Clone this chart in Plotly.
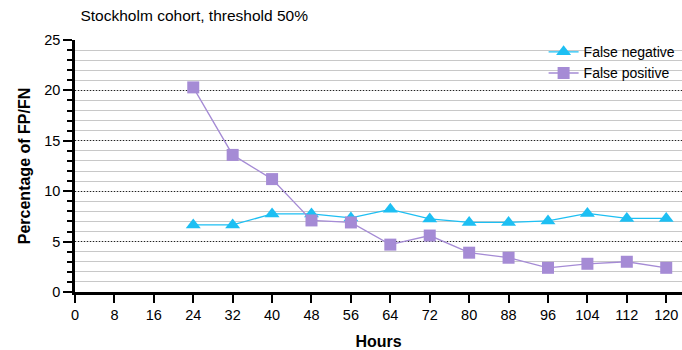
import plotly.graph_objects as go

hours = [24, 32, 40, 48, 56, 64, 72, 80, 88, 96, 104, 112, 120]
false_negative = [6.65, 6.65, 7.75, 7.75, 7.35, 8.2, 7.25, 6.9, 6.9, 7.05, 7.8, 7.3, 7.3]
false_positive = [20.3, 13.6, 11.2, 7.1, 6.9, 4.7, 5.6, 3.9, 3.4, 2.4, 2.8, 3.0, 2.4]
x_ticks = list(range(0, 121, 8))
y_ticks = [0, 5, 10, 15, 20, 25]

cyan = "#1DBFF3"
purple = "#A58BD5"
font = "Liberation Sans, Arial, Helvetica, sans-serif"

fig = go.Figure()
fig.add_trace(go.Scatter(
    x=hours, y=false_negative, name="False negative", mode="lines+markers",
    line=dict(color=cyan, width=1.3),
    marker=dict(symbol="triangle-up", size=13, color=cyan),
))
fig.add_trace(go.Scatter(
    x=hours, y=false_positive, name="False positive", mode="lines+markers",
    line=dict(color=purple, width=1.3),
    marker=dict(symbol="square", size=12, color=purple),
))

fig.update_layout(
    width=682, height=350,
    margin=dict(l=75, r=0, t=40, b=58),
    paper_bgcolor="white", plot_bgcolor="white",
    font=dict(family=font, size=14, color="black"),
    title=dict(text="Stockholm cohort, threshold 50%", x=0.118, xanchor="left",
               y=0.955, yanchor="middle", font=dict(size=15.5, family=font)),
    showlegend=True,
    legend=dict(x=0.772, y=1.015, xanchor="left", yanchor="top",
                bgcolor="rgba(0,0,0,0)", font=dict(size=14, family=font),
                itemwidth=30, tracegroupgap=6),
)
fig.update_xaxes(
    range=[0, 123.2], tickmode="array", tickvals=x_ticks,
    ticks="outside", ticklen=8, tickwidth=2, tickcolor="black",
    showline=True, linecolor="black", linewidth=2.5,
    showgrid=False, zeroline=False,
    title=dict(text="<b>Hours</b>", font=dict(size=16, family=font), standoff=14),
    tickfont=dict(size=14.5),
)
fig.update_yaxes(
    range=[0, 25], tickmode="array", tickvals=y_ticks,
    ticks="outside", ticklen=9, tickwidth=2, tickcolor="black",
    showline=True, linecolor="black", linewidth=2.5,
    showgrid=True, gridcolor="#222222", gridwidth=1, griddash="1px,2px",
    zeroline=False,
    minor=dict(dtick=1, ticks="outside", ticklen=5, tickwidth=2, tickcolor="black",
               showgrid=True, gridcolor="#c8c8c8", gridwidth=1, griddash="solid"),
    title=dict(text="<b>Percentage of FP/FN</b>", font=dict(size=16, family=font), standoff=10),
    tickfont=dict(size=14.5),
)

fig.write_html("out.html", config={"displayModeBar": False},
               post_script="document.body.style.margin='0px';")
